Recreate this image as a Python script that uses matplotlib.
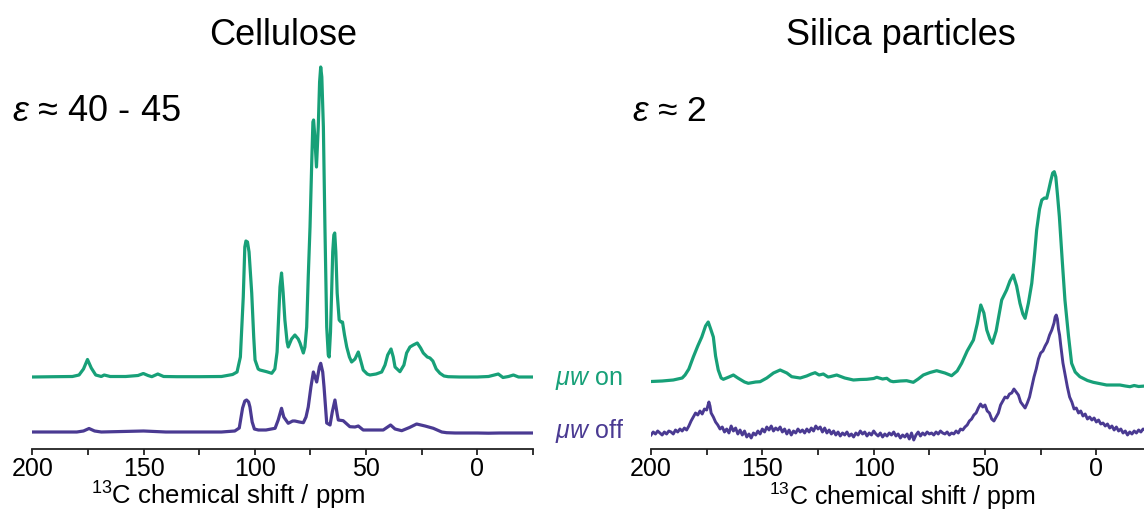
import matplotlib
matplotlib.use("Agg")
import matplotlib.pyplot as plt
import numpy as np

plt.rcParams['font.family'] = ['Liberation Sans', 'DejaVu Sans']
plt.rcParams['mathtext.fontset'] = 'custom'
plt.rcParams['mathtext.rm'] = 'Liberation Sans'
plt.rcParams['mathtext.it'] = 'Liberation Sans:italic'
plt.rcParams['mathtext.bf'] = 'Liberation Sans:bold'

# ---------------- data (ppm, intensity in arbitrary units) ----------------
cell_on_ppm = [200, 190, 182, 179, 177, 175.2, 173.5, 171.5, 169, 167.7, 165, 158, 152.5, 150.1, 148,
               146.3, 143.6, 141, 135, 125, 115, 110, 108, 106.5, 105.2, 104.5, 104.0, 103.3, 102.6,
               101.4, 100.5, 99.9, 98.5, 97.7, 94.7, 92.4, 91.0, 90.0, 89.5, 88.7, 88.0, 87.3, 86.5,
               85.5, 85.0, 83.5, 82.0, 80.5, 79.7, 78.2, 77.5, 76.7, 76.0, 75.2, 74.4, 73.9, 73.6,
               73.2, 72.3, 71.5, 70.9, 70.4, 69.9, 69.2, 68.5, 67.7, 67.0, 66.6, 66.0, 65.5, 65.0,
               64.5, 64.1, 63.6, 63.0, 62.1, 61.3, 60.6, 59.7, 58.7, 57.5, 56.5, 55.0, 53.5, 52.5,
               51.3, 49.5, 48.3, 45.5, 43.0, 41.5, 40.3, 38.8, 37.8, 37.0, 34.8, 33.0, 31.8, 30.3,
               28.8, 27.0, 25.5, 24.3, 22.5, 21.3, 20.0, 18.5, 16.8, 15, 13.1, 8, 0, -5, -9.4,
               -11.5, -14, -16.2, -18.5, -25]
cell_on_int = [0, 0.3, 0.5, 2, 8, 17.5, 9, 2, 0.5, 2, 0.5, 0.5, 1.5, 3.5, 1.5,
               0.3, 3, 0.5, 0.3, 0.3, 0.5, 2.5, 5, 20, 80, 130, 136, 135, 125,
               84, 40, 17, 8, 7, 5.3, 3.7, 8, 25, 50, 90, 104, 85, 57,
               35, 30, 38, 42, 38, 34, 24, 30, 50, 100, 150, 217, 255, 257,
               245, 210, 250, 295, 310, 300, 250, 150, 50, 22, 20, 45, 84, 125,
               142, 144, 125, 84, 57, 55, 55, 42, 30, 20, 15, 18, 25, 17,
               7, 3, 2, 3, 5, 12, 22, 28, 20, 10, 5.3, 12, 24, 30,
               32, 34, 29, 24, 20, 19, 16, 8, 3.7, 1, 0.3, 0, 0, 0.5, 3,
               -0.5, 0.5, 2, 0, 0]

cell_off_ppm = [200, 180, 177, 174.5, 172, 169, 150, 140, 115, 109, 107, 105.5, 104.5, 103.7, 102.8,
                102.2, 101.2, 100.2, 98.4, 95, 90.9, 89.5, 88.0, 87, 85.0, 83, 82.0, 80, 78.2, 77,
                76.0, 74.8, 73.7, 72.2, 71.0, 70.4, 69.5, 68.9, 67.7, 66.2, 65.2, 64.0, 63, 62.5,
                60.3, 57.3, 55, 53.5, 51.3, 46, 42.3, 39.0, 37, 34.0, 30.5, 27.3, 23.5, 19.8, 16,
                13.8, 10, 0, -5, -10, -25]
cell_off_int = [0, 0, 1, 3.5, 1, 0, 1, 0, 0, 1, 4, 24, 31, 32, 30,
                25, 10, 3, 2, 2, 3.7, 12, 23.7, 15, 8.7, 11, 11, 10, 9.3, 15,
                25, 45, 60, 50, 65, 68.7, 60, 45, 9, 7, 20, 32, 18, 12,
                11.3, 5.3, 5, 6, 2, 2, 2, 7, 3, 1.3, 4.5, 8, 6, 3.7, 0,
                -0.7, -1, -1, -1.2, -1, -1]

sil_on_ppm = [200, 195, 190, 186, 184.7, 183, 181, 179, 177.2, 175.5, 174.3, 173.2, 172.0, 171,
              169.8, 168.5, 167.5, 165, 163, 161, 158, 156.3, 153, 151, 148, 145, 142, 139, 136.8,
              133, 130.1, 128, 126.3, 124.5, 122.6, 120.5, 119.6, 116.6, 113, 109.1, 106, 103.1,
              100, 98.6, 96, 94.1, 92.5, 91.2, 88, 85.2, 82.2, 80, 77.7, 74.7, 71.7, 68, 65.0,
              62.5, 60.5, 58, 55.2, 53.5, 51.9, 50.5, 49.2, 47.8, 46.7, 45, 43.8, 42.5, 40.3,
              38.8, 37.3, 35.8, 34.3, 33, 32.0, 30.5, 29.0, 28, 26.8, 25.5, 24.5, 23.3, 22.3,
              21.5, 20.5, 19.6, 18.9, 18.2, 17.4, 16.6, 15.3, 14.1, 12.5, 11.1, 9.5, 7.4, 4,
              1.4, -4.6, -10.6, -13, -15.1, -17, -19, -22]
sil_on_int = [-0.5, 0, 1, 3, 6, 12, 24, 35, 44, 55, 59, 52, 44, 25,
              11, 3, 1.7, 4, 6, 3, -1, -2.3, -1, -0.7, 3, 8, 11, 8, 4.3,
              3, 5, 7, 8.3, 6, 7, 4, 4.3, 6, 3, 1, 1.5, 1.7,
              2.5, 3.7, 2, 2.7, 0, -0.7, 0, 0.3, -1.3, 2, 6, 8.5, 10.3, 8, 5.3,
              10, 17.7, 30, 41, 57, 76, 68, 51, 42, 37.7, 50, 65, 81, 91,
              100, 106, 95, 77.7, 67, 62.7, 78, 97.7, 120, 151, 172, 181, 183, 182.7,
              190, 200, 208, 209.3, 204, 185, 164.3, 120, 81, 45, 17.7, 9, 4.3, 0.5,
              -1.3, -4, -4, -5, -5.7, -4.5, -5.5, -5]

sil_off_ppm = [200, 199, 198, 197, 196, 195, 194, 193, 192, 191, 190, 189, 188, 187, 186, 185, 184,
               183, 182, 181, 180, 179, 178, 177, 176, 175, 174, 173.5, 173, 172, 171, 170, 169,
               168, 167, 166, 165, 164, 163, 162, 161, 160, 159, 158, 157, 156, 155, 154, 153, 152,
               151, 150, 149, 148, 147, 146, 145, 144, 143, 142, 141, 140, 139, 138, 137, 136, 135,
               134, 133, 132, 131, 130, 129, 128, 127, 126, 125, 124, 123, 122, 121, 120, 119, 118,
               117, 116, 115, 114, 113, 112, 111, 110, 109, 108, 107, 106, 105, 104, 103, 102, 101,
               100, 99, 98, 97, 96, 95, 94, 93, 92, 91, 90, 89, 88, 87, 86, 85, 84, 83, 82, 81, 80,
               79, 78, 77, 76, 75, 74, 73, 72, 71, 70, 69, 68, 67, 66, 65, 64, 63, 62, 61, 60, 59,
               58, 57, 56, 55, 54, 53, 52, 51, 50, 49, 48, 47, 46, 45, 44, 43, 42, 41, 40, 39, 38,
               37, 36, 35, 34, 33, 32, 31, 30, 29, 28, 27, 26, 25, 24, 23, 22, 21, 20, 19, 18.5, 18,
               17.5, 17, 16.5, 16, 15, 14, 13, 12, 11, 10, 9, 8, 7, 6, 5, 4, 3, 2, 1, 0, -1, -2, -3,
               -4, -5, -6, -7, -8, -9, -10, -11, -12, -13, -14, -15, -16, -17, -18, -19, -20, -21, -22]
sil_off_int = [0, 3, 1, 4, 2, 0, 3, 1, 4, 3, 1, 5, 3, 6, 4, 7, 5,
               9, 14, 18, 22, 20, 24, 21, 26, 25, 33, 29, 22, 18, 13, 10, 6,
               8, 3, 6, 2, 9, 4, 7, 1, 5, 0, 4, -2, 1, -3, 2, 0, 4,
               1, 6, 3, 8, 5, 9, 4, 7, 5, 8, 3, 6, 1, 5, 0, 4, 2,
               6, 3, 5, 2, 6, 3, 7, 4, 9, 6, 8, 3, 7, 2, 5, 1, 4,
               0, 3, -1, 2, 0, 3, -1, 1, -2, 2, 0, 4, 1, 3, -1, 2, 0,
               4, 1, -1, 2, -2, 1, -1, 2, 0, 3, -1, 1, -3, 0, -2, 1, -4, 2, -5, 0, 3,
               -1, 2, 0, 3, 1, 2, 0, 3, 1, 4, 2, 1, 3, 0, 2, 1, 4, 2, 6, 5, 8,
               10, 14, 16, 20, 22, 27, 31, 28, 30, 24, 22, 16, 14, 18, 22, 30, 34, 38, 37, 41, 42,
               46, 43, 40, 33, 30, 27, 32, 38, 48, 58, 66, 76, 82, 84, 89, 93, 100, 105, 112, 118, 120,
               116, 106, 100, 90, 72, 60, 48, 38, 33, 26, 27, 22, 24, 19, 21, 16, 18, 15, 17, 13, 15, 11, 12,
               9, 11, 7, 9, 5, 8, 4, 6, 2, 4, 0, 3, 1, 4, 2, 5, 3, 6, 5]

xticks = [200, 175, 150, 125, 100, 75, 50, 25, 0, -25]
xticklabels = ['200', '', '150', '', '100', '', '50', '', '0', '']
titles = ['Cellulose', 'Silica particles']
eps_labels = [r'$\varepsilon$ ≈ 40 - 45', r'$\varepsilon$ ≈ 2']
mw_labels = [r'$\mu w$ on', r'$\mu w$ off']
xlabel = r'$^{13}$C chemical shift / ppm'

# ---------------- style ----------------
GREEN = '#17a078'
PURPLE = '#4a3a92'
W, H = 1144, 524
LW = 2.3

fig = plt.figure(figsize=(W / 100, H / 100), dpi=100)

def px_ax(x0, x1, y_bottom, y_top):
    return fig.add_axes([x0 / W, 1 - y_bottom / H, (x1 - x0) / W, (y_bottom - y_top) / H])

ax1 = px_ax(32.3, 533, 449, 60)
ax2 = px_ax(651, 1152, 449, 60)

on_off = {ax1: (72, 17), ax2: (68, 14)}

ax1.plot(cell_on_ppm, np.array(cell_on_int) + on_off[ax1][0], color=GREEN, lw=LW, solid_joinstyle='round')
ax1.plot(cell_off_ppm, np.array(cell_off_int) + on_off[ax1][1], color=PURPLE, lw=LW, solid_joinstyle='round')
ax2.plot(sil_on_ppm, np.array(sil_on_int) + on_off[ax2][0], color=GREEN, lw=LW, solid_joinstyle='round')
ax2.plot(sil_off_ppm, np.array(sil_off_int) + on_off[ax2][1], color=PURPLE, lw=2.1, solid_joinstyle='round')

for ax in (ax1, ax2):
    ax.set_xlim(200, -25)
    ax.set_ylim(0, 389)
    for s in ('left', 'right', 'top'):
        ax.spines[s].set_visible(False)
    ax.spines['bottom'].set_linewidth(1.3)
    ax.spines['bottom'].set_color('#222222')
    ax.set_yticks([])
    ax.set_xticks(xticks)
    ax.set_xticklabels(xticklabels)
    ax.tick_params(axis='x', direction='out', length=4, width=1.3, color='#222222',
                   labelsize=18, pad=2)
    ax.patch.set_alpha(0)

# axis labels (placed in figure pixels to match the reference)
fig.text(228 / W, 1 - 505 / H, xlabel, fontsize=18.5, ha='center', va='baseline')
fig.text(902 / W, 1 - 505 / H, xlabel, fontsize=18, ha='center', va='baseline')

fig.text(283 / W, 1 - 45 / H, titles[0], fontsize=26, ha='center', va='baseline')
fig.text(901 / W, 1 - 45 / H, titles[1], fontsize=26, ha='center', va='baseline')
fig.text(12 / W, 1 - 121 / H, eps_labels[0], fontsize=26, ha='left', va='baseline')
fig.text(632 / W, 1 - 121 / H, eps_labels[1], fontsize=25.5, ha='left', va='baseline')
fig.text(555 / W, 1 - 385 / H, mw_labels[0], fontsize=18, color=GREEN, ha='left', va='baseline')
fig.text(555 / W, 1 - 438 / H, mw_labels[1], fontsize=18, color=PURPLE, ha='left', va='baseline')

fig.savefig('out.png', dpi=100)
